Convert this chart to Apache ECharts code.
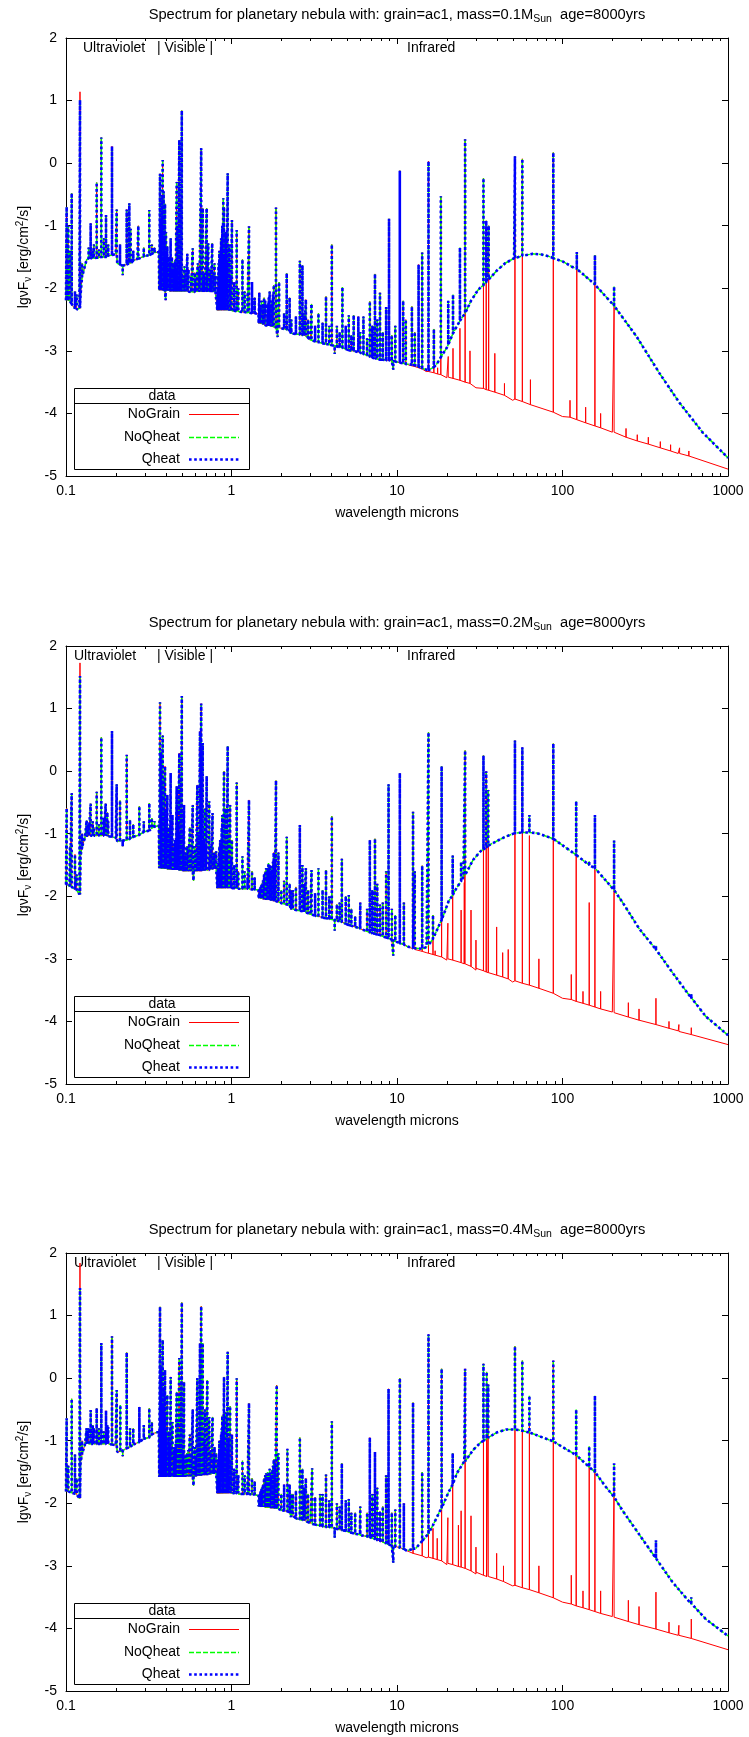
<!DOCTYPE html>
<html><head><meta charset="utf-8">
<script src="https://cdn.jsdelivr.net/npm/echarts/dist/echarts.min.js"></script>
<style>html,body{margin:0;padding:0;background:#fff}#main{width:749px;height:1737px}</style>
</head><body><div id="main"></div>
<script>
// ---------------- DATA ----------------
const masses = ['0.1', '0.2', '0.4'];
const xTickLabels = ['0.1', '1', '10', '100', '1000'];
const minorTickValues = [0.2,0.3,0.4,0.5,0.6,0.7,0.8,0.9,2,3,4,5,6,7,8,9,20,30,40,50,60,70,80,90,200,300,400,500,600,700,800,900];
const seriesNames = ['NoGrain', 'NoQheat', 'Qheat'];

// shared continuum (all models) [wavelength, lg vFv]
const cont1 = [[0.100,-2.19],[0.105,-2.22],[0.110,-2.29],[0.115,-2.35],[0.1205,-2.32],[0.1225,-2.10],[0.127,-1.75],[0.133,-1.55],[0.150,-1.51],[0.170,-1.49],[0.200,-1.45],[0.204,-1.60],[0.220,-1.64],[0.240,-1.60],[0.270,-1.53],[0.300,-1.49],[0.340,-1.43],[0.364,-1.42],[0.366,-2.03],[0.400,-2.05],[0.500,-2.05],[0.600,-2.06],[0.819,-2.06],[0.821,-2.35],[1.00,-2.36],[1.40,-2.40],[1.457,-2.41],[1.459,-2.56],[2.00,-2.64],[2.27,-2.67],[2.29,-2.72],[3.00,-2.83],[5.00,-2.99],[7.00,-3.10],[10.0,-3.18],[11.5,-3.22]];
const cont2 = [[0.100,-1.81],[0.105,-1.84],[0.110,-1.87],[0.115,-1.92],[0.1205,-1.97],[0.1225,-1.35],[0.126,-1.18],[0.130,-1.07],[0.140,-1.03],[0.170,-1.04],[0.200,-1.07],[0.204,-1.12],[0.220,-1.11],[0.250,-1.05],[0.300,-0.96],[0.340,-0.89],[0.364,-0.87],[0.366,-1.55],[0.400,-1.58],[0.500,-1.60],[0.700,-1.57],[0.819,-1.55],[0.821,-1.87],[1.00,-1.87],[1.40,-1.89],[1.457,-1.90],[1.459,-2.03],[2.00,-2.11],[2.27,-2.15],[2.29,-2.21],[3.00,-2.29],[5.00,-2.45],[7.00,-2.59],[10.0,-2.74],[11.5,-2.80]];
const cont3 = [[0.100,-1.81],[0.105,-1.82],[0.110,-1.84],[0.115,-1.87],[0.1205,-1.92],[0.1225,-1.34],[0.126,-1.18],[0.130,-1.07],[0.150,-1.05],[0.200,-1.07],[0.204,-1.18],[0.220,-1.16],[0.250,-1.07],[0.300,-0.96],[0.340,-0.88],[0.364,-0.86],[0.366,-1.58],[0.500,-1.58],[0.819,-1.52],[0.821,-1.84],[1.40,-1.86],[1.457,-1.88],[1.459,-2.05],[2.00,-2.11],[2.27,-2.16],[2.29,-2.22],[3.00,-2.32],[5.00,-2.45],[7.00,-2.56],[10.0,-2.70],[11.5,-2.76]];

// shared emission lines [wavelength, base, peak, (NoGrain peak)]
const lines1 = [[0.1009,-2.19,-0.70],[0.1033,-2.20,-1.0],[0.1057,-2.21,-1.4],[0.1082,-2.25,-0.48],[0.1133,-2.32,-2.05],[0.1160,-2.34,-2.1],[0.1215,-2.32,1.01,1.14],
[0.1409,-1.52,-0.96],[0.1476,-1.52,-1.3],[0.1532,-1.51,-0.31],[0.1635,-1.50,0.41],[0.1690,-1.50,-1.2],[0.1745,-1.50,-0.83],[0.1896,-1.47,0.27],[0.2024,-1.45,-0.74],[0.2120,-1.62,-1.3],[0.2326,-1.62,-0.74],[0.2414,-1.60,-0.64],[0.2459,-1.60,-1.05],[0.2736,-1.53,-1.0],[0.3187,-1.47,-0.75],[0.3430,-1.43,-1.35],
[0.3700,-2.03,-0.17],[0.3740,-2.03,-0.9],[0.3800,-2.03,-0.55],[0.3838,-2.03,0.05],[0.3890,-2.04,-0.45],[0.3920,-2.04,-0.9],[0.3965,-2.04,-0.65],[0.4020,-2.04,-1.1],[0.4097,-2.04,-1.33],[0.4150,-2.04,-1.5],[0.4289,-2.05,-1.2],[0.4364,-2.05,-1.5],[0.4450,-2.05,-1.6],[0.4550,-2.05,-1.55],[0.4664,-2.05,-0.30],[0.4700,-2.05,-1.0],[0.4839,-2.05,0.37],[0.4967,-2.05,-0.6],[0.5007,-2.05,0.84],[0.5200,-2.05,-1.65],[0.5410,-2.05,-1.45],[0.5500,-2.05,-1.7],[0.5829,-2.06,-1.36],[0.6000,-2.06,-1.75],[0.6260,-2.06,-1.6],[0.6400,-2.06,-1.7],[0.6563,-2.06,0.24],[0.6700,-2.06,-0.72],[0.6800,-2.06,-1.75],[0.7079,-2.06,-0.72],[0.7240,-2.06,-1.28],[0.7400,-2.06,-1.7],[0.7648,-2.06,-1.28],[0.7800,-2.06,-1.75],[0.7900,-2.06,-1.6],
[0.8350,-2.35,-1.6],[0.8450,-2.35,-1.4],[0.8660,-2.35,-1.2],[0.8800,-2.35,-1.0],[0.8926,-2.35,-0.56],[0.9013,-2.35,-0.7],[0.9220,-2.35,-1.1],[0.9480,-2.35,-0.16],[0.9700,-2.36,-1.3],[1.006,-2.36,-0.91],[1.0745,-2.37,-1.07],[1.1647,-2.38,-1.54],[1.2756,-2.39,-1.01],[1.33,-2.40,-1.9],
[1.473,-2.56,-2.07],[1.52,-2.57,-2.2],[1.574,-2.58,-2.15],[1.649,-2.60,-2.25],[1.70,-2.60,-2.05],[1.752,-2.61,-2.2],[1.80,-2.62,-1.95],[1.857,-2.62,-0.71],[1.94,-2.63,-1.9],[2.155,-2.66,-1.76],[2.244,-2.67,-2.15],[2.587,-2.74,-1.56],[2.683,-2.75,-1.63],[2.814,-2.77,-2.18],[3.045,-2.83,-2.25],[3.353,-2.86,-2.4],[3.724,-2.89,-2.13],[4.037,-2.91,-1.30],[4.33,-2.93,-2.6],[4.68,-2.95,-1.98],[5.11,-2.99,-2.43],[5.47,-3.00,-2.43],[5.84,-3.02,-2.45],[6.27,-3.05,-2.45],[6.85,-3.09,-2.21],[7.36,-3.12,-1.77],[7.89,-3.14,-2.07],[8.95,-3.15,-0.89],[9.77,-3.17,-2.6],[10.4,-3.19,-0.12],[10.9,-3.20,-2.2],[11.3,-3.21,-2.5]];

const lines2 = [[0.1009,-1.81,-0.59],[0.1057,-1.83,-1.2],[0.1082,-1.85,-0.35],[0.1133,-1.89,-1.33],[0.1160,-1.90,-1.65],[0.1215,-1.97,1.52,1.73],
[0.1333,-1.05,-0.79],[0.1409,-1.03,-0.52],[0.1476,-1.03,-0.9],[0.1532,-1.03,-0.33],[0.1635,-1.03,0.54],[0.1690,-1.03,-0.75],[0.1737,-1.03,-0.52],[0.1779,-1.04,-0.66],[0.1896,-1.05,0.64],[0.2024,-1.07,-0.21],[0.2120,-1.11,-0.47],[0.2326,-1.10,0.26],[0.2436,-1.08,-0.78],[0.2775,-1.02,-0.56],[0.3187,-0.95,-0.51],[0.3430,-0.89,-0.8],
[0.3699,-1.55,1.10],[0.3740,-1.55,0.3],[0.3775,-1.56,-0.2],[0.3838,-1.56,0.57],[0.3890,-1.56,-0.1],[0.3965,-1.56,0.08],[0.4097,-1.57,-0.38],[0.4200,-1.57,-0.9],[0.4289,-1.57,-0.03],[0.4400,-1.58,-0.7],[0.4545,-1.58,-1.1],[0.4664,-1.58,-0.24],[0.4750,-1.58,-0.8],[0.4839,-1.59,0.29],[0.4967,-1.59,-0.1],[0.5007,-1.59,1.20],[0.5164,-1.60,-0.54],[0.5359,-1.60,-1.2],[0.5600,-1.60,-0.9],[0.5829,-1.60,-0.54],[0.6000,-1.60,-1.2],[0.6217,-1.60,-0.22],[0.6453,-1.60,0.64],[0.6563,-1.60,1.08],[0.6700,-1.59,0.45],[0.6900,-1.59,-0.6],[0.7079,-1.58,-0.08],[0.7340,-1.58,-0.48],[0.7684,-1.57,-0.67],[0.7900,-1.56,-1.3],[0.8081,-1.55,-1.28],
[0.8300,-1.87,-1.5],[0.8450,-1.87,-1.2],[0.8660,-1.87,-1.22],[0.8800,-1.87,-0.7],[0.9013,-1.87,0.0],[0.9200,-1.87,-0.6],[0.9480,-1.87,0.40],[0.9810,-1.87,-0.54],[1.006,-1.87,-1.1],[1.0745,-1.87,-0.18],[1.1647,-1.88,-1.36],[1.2756,-1.88,-0.46],[1.33,-1.89,-1.6],
[1.473,-2.03,-1.96],[1.52,-2.04,-1.8],[1.574,-2.05,-1.65],[1.62,-2.06,-1.55],[1.673,-2.06,-1.47],[1.752,-2.07,-1.52],[1.80,-2.08,-1.3],[1.857,-2.08,-0.15],[1.921,-2.09,-1.3],[2.0,-2.11,-1.9],[2.155,-2.13,-1.05],[2.244,-2.14,-1.8],[2.35,-2.20,-1.9],[2.587,-2.23,-0.86],[2.683,-2.24,-1.5],[2.814,-2.26,-1.55],[3.045,-2.29,-1.58],[3.353,-2.32,-1.55],[3.724,-2.35,-1.58],[4.037,-2.37,-0.72],[4.33,-2.39,-2.13],[4.64,-2.41,-1.4],[5.11,-2.46,-1.98],[5.59,-2.49,-2.32],[5.98,-2.51,-2.32],[6.85,-2.58,-1.1],[7.36,-2.60,-1.08],[7.89,-2.62,-2.13],[8.89,-2.67,-0.21],[9.77,-2.72,-2.3],[10.4,-2.75,-0.03],[11.0,-2.77,-2.1]];

const lines3 = [[0.1009,-1.81,-0.64],[0.1033,-1.81,-1.4],[0.1082,-1.83,-0.33],[0.1133,-1.85,-1.22],[0.1160,-1.86,-1.6],[0.1215,-1.92,1.44,1.84],
[0.1333,-1.05,-0.8],[0.1409,-1.05,-0.51],[0.1476,-1.05,-0.8],[0.1532,-1.05,-0.48],[0.1635,-1.05,0.56],[0.1690,-1.05,-0.85],[0.1745,-1.05,-0.52],[0.1779,-1.05,-0.75],[0.1896,-1.06,0.67],[0.2024,-1.07,-0.19],[0.2130,-1.17,-0.43],[0.2326,-1.12,0.41],[0.2436,-1.10,-0.8],[0.2775,-1.02,-0.46],[0.3187,-0.95,-0.48],[0.3430,-0.89,-0.9],
[0.3699,-1.58,1.14],[0.3740,-1.58,0.2],[0.3775,-1.58,-0.3],[0.3838,-1.58,0.61],[0.3890,-1.58,-0.15],[0.3965,-1.58,0.13],[0.4097,-1.58,-0.27],[0.4200,-1.58,-0.85],[0.4289,-1.58,0.02],[0.4400,-1.58,-0.7],[0.4545,-1.58,-1.1],[0.4664,-1.58,-0.22],[0.4750,-1.58,-0.7],[0.4839,-1.58,0.32],[0.4967,-1.58,-0.05],[0.5007,-1.58,1.21],[0.5164,-1.58,-0.06],[0.5359,-1.57,-1.2],[0.5600,-1.57,-0.9],[0.5829,-1.57,-0.5],[0.6000,-1.57,-1.1],[0.6217,-1.56,0.0],[0.6453,-1.56,0.56],[0.6563,-1.56,1.15],[0.6700,-1.55,0.56],[0.6900,-1.55,-0.5],[0.7144,-1.55,-0.03],[0.7340,-1.54,-0.62],[0.7684,-1.53,-0.62],[0.7900,-1.53,-1.1],[0.8081,-1.52,-1.2],
[0.8300,-1.84,-1.3],[0.8450,-1.84,-1.0],[0.8530,-1.84,-1.14],[0.8660,-1.84,-0.9],[0.8800,-1.84,-0.6],[0.9013,-1.84,0.02],[0.9200,-1.84,-0.55],[0.9480,-1.84,0.42],[0.9810,-1.84,-0.45],[1.006,-1.84,-0.9],[1.0745,-1.84,0.0],[1.1647,-1.85,-1.32],[1.2756,-1.85,-0.4],[1.33,-1.86,-1.6],
[1.473,-2.05,-1.9],[1.52,-2.06,-1.75],[1.574,-2.06,-1.6],[1.62,-2.07,-1.52],[1.673,-2.07,-1.52],[1.752,-2.08,-1.47],[1.80,-2.08,-1.3],[1.875,-2.09,-0.11],[1.921,-2.09,-1.2],[2.0,-2.11,-1.85],[2.177,-2.13,-1.13],[2.244,-2.14,-1.7],[2.35,-2.20,-1.85],[2.587,-2.26,-0.95],[2.683,-2.27,-1.45],[2.814,-2.29,-1.6],[3.073,-2.33,-1.44],[3.43,-2.36,-1.85],[3.724,-2.38,-1.54],[4.037,-2.39,-0.69],[4.33,-2.41,-2.0],[4.64,-2.43,-1.36],[5.11,-2.46,-1.93],[5.59,-2.49,-2.15],[5.98,-2.50,-2.25],[6.85,-2.54,-0.95],[7.36,-2.57,-1.18],[7.89,-2.60,-2.13],[8.89,-2.66,-0.17],[9.77,-2.69,-2.1],[10.4,-2.71,0.0],[11.0,-2.73,-2.0]];

// weaker lines and dips of the dense forest [wavelength, base, peak]
const weak1 = [[0.125,-1.82,-1.6],[0.137,-1.52,-1.35],[0.145,-1.52,-1.4],[0.158,-1.51,-1.38],[0.1800,-1.48,-1.3],[0.2200,-1.64,-1.79],[0.2550,-1.56,-1.4],[0.2950,-1.49,-1.35],[0.3300,-1.45,-1.3],
[0.3760,-2.03,-1.2],[0.3860,-2.03,-1.0],[0.3940,-2.04,-1.2],[0.4000,-2.04,-2.19],[0.4050,-2.04,-1.4],[0.4250,-2.05,-1.6],[0.4490,-2.05,-1.7],[0.4600,-2.05,-1.7],[0.4760,-2.05,-1.5],[0.4900,-2.05,-1.6],[0.5100,-2.05,-1.8],[0.5300,-2.05,-1.75],[0.5700,-2.06,-1.8],[0.6100,-2.06,-1.85],[0.6900,-2.06,-1.8],[0.7500,-2.06,-1.85],[0.8000,-2.06,-1.8],
[0.8250,-2.35,-2.0],[0.8300,-2.35,-1.8],[0.8400,-2.35,-1.7],[0.8550,-2.35,-1.5],[0.8730,-2.35,-1.3],[0.9100,-2.35,-1.5],[0.9350,-2.35,-1.6],[0.9900,-2.36,-1.8],[1.04,-2.36,-1.9],[1.10,-2.37,-2.0],[1.20,-2.38,-2.05],[1.25,-2.39,-2.1],[1.38,-2.40,-2.15],
[1.50,-2.57,-2.3],[1.55,-2.58,-2.25],[1.60,-2.59,-2.2],[1.68,-2.60,-2.15],[1.73,-2.61,-2.3],[1.78,-2.62,-2.1],[1.90,-2.63,-2.78],[2.08,-2.65,-2.4],[2.30,-2.72,-2.5],[2.45,-2.73,-2.45],[2.75,-2.76,-2.4],[2.90,-2.79,-2.5],[3.20,-2.85,-2.6],[3.55,-2.88,-2.55],[3.90,-2.90,-2.6],[4.20,-2.92,-3.05],[4.50,-2.94,-2.7],[4.90,-2.97,-2.6],[5.30,-3.00,-2.75],[6.00,-3.03,-2.7],[6.60,-3.07,-2.8],[7.10,-3.11,-2.6],[7.60,-3.13,-2.5],[8.20,-3.14,-2.7],[8.60,-3.15,-2.3],[9.30,-3.16,-2.75],[9.50,-3.16,-3.3]];
const weak2 = [[0.125,-1.22,-1.0],[0.137,-1.04,-0.85],[0.145,-1.03,-0.8],[0.158,-1.03,-0.85],[0.1800,-1.04,-0.8],[0.2200,-1.11,-1.2],[0.2550,-1.05,-0.85],[0.2950,-0.97,-0.8],[0.3300,-0.91,-0.75],
[0.3760,-1.55,-0.5],[0.3860,-1.56,-0.4],[0.3940,-1.56,-0.6],[0.4000,-1.56,-0.9],[0.4150,-1.57,-1.0],[0.4250,-1.57,-1.1],[0.4490,-1.58,-1.2],[0.4600,-1.58,-1.1],[0.4900,-1.59,-1.0],[0.5100,-1.60,-1.2],[0.5250,-1.60,-1.3],[0.5480,-1.60,-1.2],[0.5700,-1.60,-1.3],[0.5900,-1.60,-1.75],[0.6100,-1.60,-1.3],[0.6350,-1.60,-1.0],[0.6800,-1.59,-1.1],[0.7000,-1.58,-1.2],[0.7500,-1.57,-1.2],[0.7800,-1.56,-1.35],
[0.8250,-1.87,-1.6],[0.8350,-1.87,-1.4],[0.8400,-1.87,-1.3],[0.8550,-1.87,-1.1],[0.8730,-1.87,-0.9],[0.8900,-1.87,-0.8],[0.9100,-1.87,-1.2],[0.9350,-1.87,-1.3],[0.9600,-1.87,-1.0],[0.9950,-1.87,-1.4],[1.04,-1.87,-1.5],[1.10,-1.88,-1.6],[1.20,-1.88,-1.6],[1.25,-1.88,-1.7],[1.38,-1.89,-1.7],
[1.50,-2.04,-1.85],[1.55,-2.05,-1.75],[1.60,-2.05,-1.6],[1.65,-2.06,-1.55],[1.70,-2.06,-1.5],[1.73,-2.07,-1.6],[1.78,-2.07,-1.45],[1.83,-2.08,-1.4],[2.08,-2.12,-1.75],[2.30,-2.21,-1.9],[2.45,-2.22,-1.85],[2.75,-2.25,-1.8],[2.90,-2.27,-1.9],[3.20,-2.31,-1.95],[3.55,-2.34,-1.9],[3.90,-2.36,-2.0],[4.20,-2.38,-2.55],[4.50,-2.40,-2.1],[4.90,-2.44,-2.0],[5.30,-2.47,-2.2],[6.00,-2.52,-2.1],[6.60,-2.56,-2.2],[7.10,-2.59,-1.9],[7.60,-2.61,-1.8],[8.20,-2.64,-2.1],[8.60,-2.66,-1.6],[9.30,-2.69,-2.2],[9.50,-2.70,-2.95]];
const weak3 = [[0.125,-1.22,-1.0],[0.137,-1.05,-0.8],[0.145,-1.05,-0.75],[0.158,-1.05,-0.8],[0.1800,-1.05,-0.78],[0.2200,-1.16,-1.25],[0.2550,-1.06,-0.8],[0.2950,-0.97,-0.75],[0.3300,-0.90,-0.7],
[0.3760,-1.58,-0.5],[0.3860,-1.58,-0.4],[0.3940,-1.58,-0.6],[0.4000,-1.58,-0.85],[0.4150,-1.58,-0.95],[0.4250,-1.58,-1.05],[0.4490,-1.58,-1.15],[0.4600,-1.58,-1.05],[0.4900,-1.58,-0.95],[0.5100,-1.58,-1.15],[0.5250,-1.58,-1.25],[0.5480,-1.57,-1.15],[0.5700,-1.57,-1.25],[0.5900,-1.57,-1.72],[0.6100,-1.57,-1.25],[0.6350,-1.56,-0.9],[0.6800,-1.55,-1.0],[0.7000,-1.55,-1.1],[0.7500,-1.54,-1.15],[0.7800,-1.53,-1.3],
[0.8250,-1.84,-1.5],[0.8350,-1.84,-1.3],[0.8400,-1.84,-1.2],[0.8550,-1.84,-1.0],[0.8730,-1.84,-0.8],[0.8900,-1.84,-0.7],[0.9100,-1.84,-1.1],[0.9350,-1.84,-1.2],[0.9600,-1.84,-0.95],[0.9950,-1.84,-1.35],[1.04,-1.84,-1.45],[1.10,-1.85,-1.55],[1.20,-1.85,-1.55],[1.25,-1.85,-1.65],[1.38,-1.86,-1.65],
[1.50,-2.06,-1.8],[1.55,-2.06,-1.7],[1.60,-2.07,-1.55],[1.65,-2.07,-1.5],[1.70,-2.07,-1.45],[1.73,-2.08,-1.55],[1.78,-2.08,-1.4],[1.83,-2.09,-1.35],[2.08,-2.12,-1.7],[2.30,-2.22,-1.85],[2.45,-2.24,-1.8],[2.75,-2.28,-1.75],[2.90,-2.30,-1.85],[3.20,-2.34,-1.9],[3.55,-2.37,-1.85],[3.90,-2.38,-1.95],[4.20,-2.40,-2.55],[4.50,-2.42,-2.05],[4.90,-2.44,-1.95],[5.30,-2.47,-2.15],[6.00,-2.51,-2.05],[6.60,-2.53,-2.15],[7.10,-2.56,-1.85],[7.60,-2.59,-1.75],[8.20,-2.62,-2.05],[8.60,-2.64,-1.55],[9.30,-2.67,-2.15],[9.50,-2.68,-2.95]];

// infrared continua: NoGrain (no dust) and with dust emission
const redIr1 = [[11.5,-3.22],[15,-3.33],[20,-3.43],[30,-3.59],[50,-3.79],[100,-4.05],[200,-4.30],[500,-4.64],[1000,-4.89]];
const dustIr1 = [[11.5,-3.21],[13,-3.25],[15.5,-3.31],[17.5,-3.20],[20,-2.95],[22,-2.72],[25,-2.45],[28,-2.20],[31,-2.02],[35,-1.86],[40,-1.72],[45,-1.60],[51,-1.52],[58,-1.47],[66,-1.45],[75,-1.46],[85,-1.50],[100,-1.57],[115,-1.66],[138,-1.81],[160,-1.95],[207,-2.29],[280,-2.77],[386,-3.36],[509,-3.83],[706,-4.31],[1000,-4.71]];
const redIr2 = [[11.5,-2.80],[15,-2.90],[20,-3.02],[30,-3.18],[50,-3.37],[100,-3.63],[200,-3.85],[500,-4.15],[1000,-4.37]];
const dustIr2 = [[11.5,-2.80],[13,-2.83],[15.1,-2.81],[16.5,-2.68],[18.2,-2.43],[20.5,-2.08],[23,-1.86],[25.2,-1.69],[28.8,-1.42],[32,-1.28],[38,-1.15],[45,-1.05],[52,-0.99],[60,-0.98],[70,-0.99],[90,-1.10],[121,-1.34],[157,-1.55],[205,-1.90],[231,-2.10],[291,-2.52],[367,-2.85],[462,-3.22],[582,-3.58],[734,-3.92],[1000,-4.22]];
const redIr3 = [[11.5,-2.76],[15,-2.87],[20,-2.98],[30,-3.13],[50,-3.32],[100,-3.58],[200,-3.81],[500,-4.11],[1000,-4.34]];
const dustIr3 = [[11.5,-2.76],[13,-2.72],[14.8,-2.55],[16.5,-2.35],[18.2,-2.12],[20.5,-1.82],[23,-1.52],[25.5,-1.33],[28.8,-1.15],[32,-1.03],[36.3,-0.93],[40,-0.87],[45.8,-0.82],[52,-0.82],[57.7,-0.84],[65,-0.88],[72.8,-0.93],[91.7,-1.04],[115.6,-1.20],[145.6,-1.42],[183,-1.74],[231,-2.12],[291,-2.50],[367,-2.88],[462,-3.26],[582,-3.57],[734,-3.85],[1000,-4.12]];

// infrared lines [wavelength, NoGrain base, dust base, NoGrain peak, dust-model peak (null = hidden)]
const irLines1 = [[12.3,-3.24,-3.22,-2.29,-2.29],[12.8,-3.25,-3.23,-2.7,-2.7],[13.5,-3.27,-3.25,-1.62,-1.62],[14.2,-3.29,-3.28,-1.43,-1.43],[15.5,-3.33,-3.31,0.03,0.03],[16.7,-3.35,-3.26,-2.65,-2.65],[17.6,-3.37,-3.19,-3.27,null],[18.4,-3.38,-3.1,-0.53,-0.53],[20.4,-3.42,-2.9,-3.09,-2.2],[21.8,-3.44,-2.72,-2.96,-2.1],[24.0,-3.47,-2.52,-2.64,-1.35],[25.8,-3.50,-2.40,0.38,0.38],[27.6,-3.52,-2.25,-3.0,null],[33.3,-3.60,-1.95,-0.24,-0.24],[34.6,-3.62,-1.90,-0.92,-0.92],[35.8,-3.63,-1.86,-1.0,-1.0],[39,-3.66,-1.77,-3.04,null],[44.6,-3.71,-1.62,-3.52,null],[51.6,-3.77,-1.52,0.11,0.11],[57.2,-3.81,-1.48,0.07,0.07],[64,-3.86,-1.46,-3.46,null],[88,-3.98,-1.52,0.17,0.17],[111,-4.06,-1.63,-3.79,null],[122,-4.10,-1.69,-1.42,-1.42],[138,-4.15,-1.81,-3.9,null],[157,-4.20,-1.94,-1.47,-1.47],[170,-4.23,-2.03,-4.0,null],[205,-4.30,-2.28,-2.3,-1.97],[242,-4.38,-2.55,-4.24,null],[283,-4.44,-2.78,-4.34,null],[330,-4.49,-3.05,-4.38,null],[390,-4.55,-3.36,-4.45,null],[450,-4.60,-3.62,-4.5,null],[510,-4.64,-3.83,-4.55,null],[580,-4.68,-4.05,-4.6,null]];
const irLines2 = [[12.5,-2.84,-2.83,-0.65,-0.65],[12.8,-2.85,-2.83,-1.6,-1.6],[14.2,-2.88,-2.84,-1.51,-1.51],[15.5,-2.91,-2.78,0.62,0.62],[16.5,-2.93,-2.68,-2.3,-2.3],[17.0,-2.94,-2.6,-2.87,null],[18.6,-2.97,-2.38,0.08,0.08],[20.3,-3.00,-2.12,-2.43,null],[21.7,-3.02,-1.98,-1.35,-1.35],[24.4,-3.06,-1.76,-2.22,-1.45],[25.5,-3.08,-1.68,-1.78,null],[25.8,-3.08,-1.66,0.33,0.33],[28.0,-3.12,-1.48,-2.22,null],[30.0,-3.15,-1.38,-2.7,null],[33.3,-3.19,-1.25,0.25,0.25],[34.6,-3.21,-1.22,0.0,0.0],[35.6,-3.22,-1.19,-0.3,-0.3],[40,-3.26,-1.12,-2.49,null],[43.5,-3.29,-1.07,-2.9,null],[47,-3.32,-1.03,-2.85,null],[51.6,-3.35,-0.99,0.49,0.49],[57.2,-3.39,-0.98,0.38,0.38],[63.1,-3.42,-0.98,-1.03,-0.7],[72,-3.47,-1.0,-3.0,null],[88,-3.55,-1.08,0.44,0.44],[113,-3.65,-1.28,-3.25,null],[121,-3.68,-1.34,-1.35,-0.48],[133,-3.71,-1.42,-3.52,null],[145,-3.74,-1.5,-2.1,-1.44],[157,-3.77,-1.55,-1.57,-0.70],[170,-3.80,-1.65,-3.52,null],[205,-3.86,-1.9,-1.9,-1.11],[250,-3.93,-2.25,-3.7,null],[290,-3.98,-2.51,-3.8,null],[367,-4.05,-2.85,-3.63,-2.79],[440,-4.11,-3.14,-4.0,null],[505,-4.16,-3.37,-4.05,null],[600,-4.21,-3.62,-4.1,-3.56]];
const irLines3 = [[12.5,-2.80,-2.73,-0.39,-0.39],[14.2,-2.84,-2.6,-1.5,-1.5],[15.5,-2.86,-2.48,0.70,0.70],[16.5,-2.88,-2.35,-2.4,null],[17.5,-2.90,-2.22,-2.56,null],[18.6,-2.92,-2.08,0.15,0.15],[20.3,-2.96,-1.86,-2.23,null],[21.7,-2.98,-1.7,-1.2,-1.2],[23.5,-3.01,-1.5,-2.35,null],[24.4,-3.02,-1.43,-2.12,null],[25.8,-3.04,-1.33,0.15,0.15],[28.0,-3.08,-1.2,-2.2,null],[30.0,-3.10,-1.1,-2.7,null],[33.3,-3.15,-1.0,0.23,0.23],[34.8,-3.17,-0.97,0.1,0.1],[35.6,-3.17,-0.95,-0.1,-0.1],[40,-3.21,-0.87,-2.8,null],[44,-3.25,-0.84,-3.0,null],[51.6,-3.31,-0.82,0.51,0.51],[57.2,-3.35,-0.84,0.28,0.28],[63.1,-3.38,-0.87,-0.71,-0.28],[72,-3.43,-0.93,-3.0,null],[88,-3.51,-1.01,0.28,0.28],[113,-3.61,-1.18,-3.15,null],[121,-3.64,-1.23,-1.23,-0.5],[133,-3.67,-1.31,-3.4,null],[145,-3.70,-1.42,-1.42,-1.09],[157,-3.73,-1.5,-1.5,-0.28],[170,-3.76,-1.6,-3.4,null],[205,-3.82,-1.9,-1.63,-1.36],[250,-3.89,-2.2,-3.55,null],[290,-3.94,-2.5,-3.65,null],[367,-4.01,-2.88,-3.42,-2.59],[440,-4.07,-3.2,-3.9,null],[505,-4.11,-3.4,-3.95,null],[600,-4.16,-3.6,-3.85,-3.5]];

const panels = [
  {cont: cont1, lines: lines1.concat(weak1), redIr: redIr1, dustIr: dustIr1, irLines: irLines1},
  {cont: cont2, lines: lines2.concat(weak2), redIr: redIr2, dustIr: dustIr2, irLines: irLines2},
  {cont: cont3, lines: lines3.concat(weak3), redIr: redIr3, dustIr: dustIr3, irLines: irLines3}
];

// ---------------- LAYOUT / STYLE ----------------
const FONT = 'Liberation Sans, Arial, Helvetica, sans-serif';
const TOPS = [38, 646, 1253];
const LEFT = 66, WIDTH = 662, HEIGHT = 438;
const LSTYLES = [
  {color: '#ff0000', width: 1, type: 'solid'},
  {color: '#00ff00', width: 1.5, type: [5, 2]},
  {color: '#0000ff', width: 2.6, type: [2.6, 2.6]}
];

function buildData(p, isRed) {
  const groups = [];
  p.cont.forEach(c => groups.push({x: c[0], o: 0, pts: [[c[0], c[1]]]}));
  (isRed ? p.redIr : p.dustIr).forEach(c => groups.push({x: c[0], o: 0, pts: [[c[0], c[1]]]}));
  p.lines.forEach(l => {
    const pk = (isRed && l.length > 3) ? l[3] : l[2];
    groups.push({x: l[0], o: 1, pts: [[l[0], l[1]], [l[0], pk], [l[0], l[1]]]});
  });
  p.irLines.forEach(l => {
    if (isRed) groups.push({x: l[0], o: 1, pts: [[l[0], l[1]], [l[0], l[3]], [l[0], l[1]]]});
    else if (l[4] !== null) groups.push({x: l[0], o: 1, pts: [[l[0], l[2]], [l[0], l[4]], [l[0], l[2]]]});
  });
  groups.sort((a, b) => (a.x - b.x) || (a.o - b.o));
  const out = [];
  groups.forEach(g => g.pts.forEach(pt => out.push(pt)));
  return out;
}

const grid = [], xAxis = [], yAxis = [], series = [], graphic = [];
const axisLine = {show: true, onZero: false, lineStyle: {color: '#000', width: 1}};

TOPS.forEach((top, i) => {
  grid.push({left: LEFT, top: top, width: WIDTH, height: HEIGHT, containLabel: false});
  const xBase = {type: 'log', logBase: 10, min: 0.1, max: 1000, gridIndex: i, axisLine: axisLine,
    splitLine: {show: false}, axisTick: {show: true, inside: true, length: 6, lineStyle: {color: '#000'}}};
  xAxis.push(Object.assign({}, xBase, {position: 'bottom',
    axisLabel: {show: true, color: '#000', fontSize: 14, fontFamily: FONT, margin: 8,
      formatter: v => { const s = String(Number(Number(v).toPrecision(3))); return xTickLabels.indexOf(s) >= 0 ? s : ''; }}}));
  xAxis.push(Object.assign({}, xBase, {position: 'top', axisLabel: {show: false}}));
  const yBase = {type: 'value', min: -5, max: 2, interval: 1, gridIndex: i, axisLine: axisLine,
    splitLine: {show: false}, axisTick: {show: true, inside: true, length: 6, lineStyle: {color: '#000'}}};
  yAxis.push(Object.assign({}, yBase, {position: 'left',
    axisLabel: {show: true, color: '#000', fontSize: 14, fontFamily: FONT, margin: 9}}));
  yAxis.push(Object.assign({}, yBase, {position: 'right', axisLabel: {show: false}}));

  const p = panels[i];
  const redData = buildData(p, true);
  const dustData = buildData(p, false);
  [redData, dustData, dustData].forEach((d, k) => {
    series.push({type: 'line', name: seriesNames[k], xAxisIndex: 2 * i, yAxisIndex: 2 * i, data: d,
      showSymbol: false, symbol: 'none', animation: false, silent: true, lineStyle: LSTYLES[k], z: 2 + k});
  });
  // minor log ticks (bottom and top)
  series.push({type: 'custom', xAxisIndex: 2 * i, yAxisIndex: 2 * i, silent: true, animation: false, z: 10,
    data: minorTickValues.map(v => [v, 0]),
    renderItem: (params, api) => {
      const x = Math.round(api.coord([api.value(0), 0])[0]) + 0.5;
      const cs = params.coordSys;
      return {type: 'group', children: [
        {type: 'line', shape: {x1: x, y1: cs.y + cs.height, x2: x, y2: cs.y + cs.height - 3}, style: {stroke: '#000', lineWidth: 1}},
        {type: 'line', shape: {x1: x, y1: cs.y, x2: x, y2: cs.y + 3}, style: {stroke: '#000', lineWidth: 1}}
      ]};
    }});

  // title
  graphic.push({type: 'text', x: 397, y: top - 23, silent: true, style: {
    text: 'Spectrum for planetary nebula with: grain=ac1, mass=' + masses[i] + 'M{sub|Sun}  age=8000yrs',
    fontSize: 14.7, fontFamily: FONT, fill: '#000', align: 'center', verticalAlign: 'middle',
    rich: {sub: {fontSize: 10.5, fontFamily: FONT, fill: '#000', padding: [9, 0, 0, 0]}}}});
  // x-axis name
  graphic.push({type: 'text', x: 397, y: top + HEIGHT + 37, silent: true, style: {
    text: 'wavelength microns', fontSize: 14, fontFamily: FONT, fill: '#000', align: 'center', verticalAlign: 'middle'}});
  // y-axis name
  graphic.push({type: 'text', x: 24, y: top + 219, rotation: Math.PI / 2, silent: true, style: {
    text: 'lgνF{sub|ν} [erg/cm{sup|2}/s]', fontSize: 14, fontFamily: FONT, fill: '#000', align: 'center', verticalAlign: 'middle',
    rich: {sub: {fontSize: 10, fontFamily: FONT, fill: '#000', padding: [8, 0, 0, 0]},
           sup: {fontSize: 10, fontFamily: FONT, fill: '#000', padding: [0, 0, 8, 0]}}}});
  // region labels
  const uvX = i === 0 ? 83 : 74;
  [['Ultraviolet', uvX], ['| Visible |', 157], ['Infrared', 407]].forEach(t => {
    graphic.push({type: 'text', x: t[1], y: top + 10, silent: true, style: {
      text: t[0], fontSize: 14, fontFamily: FONT, fill: '#000', align: 'left', verticalAlign: 'middle'}});
  });
  // key box
  graphic.push({type: 'rect', shape: {x: 74.5, y: top + 350.5, width: 175, height: 81}, silent: true,
    style: {fill: 'none', stroke: '#000', lineWidth: 1}});
  graphic.push({type: 'line', shape: {x1: 74.5, y1: top + 365.5, x2: 249.5, y2: top + 365.5}, silent: true,
    style: {stroke: '#000', lineWidth: 1}});
  graphic.push({type: 'text', x: 162, y: top + 358, silent: true, style: {
    text: 'data', fontSize: 14, fontFamily: FONT, fill: '#000', align: 'center', verticalAlign: 'middle'}});
  [376, 399, 421].forEach((dy, k) => {
    graphic.push({type: 'text', x: 180, y: top + dy, silent: true, style: {
      text: seriesNames[k], fontSize: 14, fontFamily: FONT, fill: '#000', align: 'right', verticalAlign: 'middle'}});
    const ls = LSTYLES[k];
    graphic.push({type: 'line', shape: {x1: 189, y1: top + dy + 0.5, x2: 239, y2: top + dy + 0.5}, silent: true,
      style: {stroke: ls.color, lineWidth: ls.width, lineDash: Array.isArray(ls.type) ? ls.type : null}});
  });
});

const chart = echarts.init(document.getElementById('main'), null, {renderer: 'canvas', width: 749, height: 1737});
chart.setOption({animation: false, backgroundColor: '#fff', grid, xAxis, yAxis, series, graphic});
</script></body></html>
